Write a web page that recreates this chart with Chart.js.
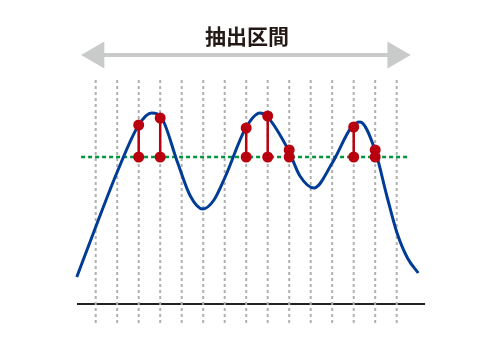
<!DOCTYPE html>
<html>
<head>
<meta charset="utf-8">
<script src="https://cdn.jsdelivr.net/npm/chart.js@4/dist/chart.umd.min.js"></script>
<style>
  html, body { margin: 0; padding: 0; background: #ffffff; }
  #wrap { width: 480px; height: 352px; }
</style>
</head>
<body>
<div id="wrap"><canvas id="c" width="480" height="352"></canvas></div>
<script>
// ---- data ----
const titleText = '抽出区間';
// smooth signal curve (x in grid-line units, y above the baseline)
const curveX = [0.12, 1.00, 2.00, 3.00, 3.60, 4.07, 4.80, 5.40, 5.98, 6.50, 7.00, 7.98, 8.64, 8.95, 9.96, 10.50, 11.15, 12.00, 12.90, 13.29, 13.99, 14.53, 15.00, 15.50, 16.00];
const curveY = [27, 77, 132, 179, 191, 186, 142, 108, 95, 104, 126, 176, 191, 188, 154, 128, 116, 141, 177, 182, 154, 109, 72, 46, 31];
// sampling (dashed vertical) lines
const gridX = [1, 2, 3, 4, 5, 6, 7, 8, 9, 10, 11, 12, 13, 14, 15];
const gridTop = 224;
const gridBottom = -21;
// threshold (green dotted line)
const threshold = 147;
const thresholdFrom = 0.32;
const thresholdTo = 15.53;
// extracted samples (red markers): grid position and curve value
const markerX = [3, 4, 8, 9, 10, 13, 14];
const markerTop = [179, 186, 176, 188, 154, 177, 154];
// baseline
const baseFrom = 0.13;
const baseTo = 16.32;
// extraction-interval arrow
const arrowFrom = 1.04;
const arrowTo = 14.93;
const arrowY = 249;

// ---- build datasets ----
const curveData = curveX.map((x, i) => ({ x: x, y: curveY[i] }));
const gridData = [];
gridX.forEach(x => { gridData.push({ x: x, y: gridTop }, { x: x, y: gridBottom }, { x: x, y: null }); });
const markerData = [];
markerX.forEach((x, i) => { markerData.push({ x: x, y: threshold }, { x: x, y: markerTop[i] }, { x: x, y: null }); });

const RED = '#b8000f';

new Chart(document.getElementById('c'), {
  type: 'line',
  data: {
    datasets: [
      {
        label: 'markers', data: markerData, order: 1,
        borderColor: RED, borderWidth: 2.5, backgroundColor: RED,
        pointRadius: 5.5, pointBorderWidth: 0, pointBackgroundColor: RED,
        spanGaps: false, tension: 0, clip: false
      },
      {
        label: 'signal', data: curveData, order: 2,
        borderColor: '#003c96', borderWidth: 3, pointRadius: 0,
        cubicInterpolationMode: 'monotone', fill: false, clip: false
      },
      {
        label: 'threshold', data: [{ x: thresholdFrom, y: threshold }, { x: thresholdTo, y: threshold }], order: 3,
        borderColor: '#00963c', borderWidth: 2.5, borderDash: [4, 3], pointRadius: 0, clip: false
      },
      {
        label: 'grid', data: gridData, order: 4,
        borderColor: '#b0b0b0', borderWidth: 2, borderDash: [3, 3], pointRadius: 0,
        spanGaps: false, clip: false
      },
      {
        label: 'base', data: [{ x: baseFrom, y: 0 }, { x: baseTo, y: 0 }], order: 5,
        borderColor: '#222222', borderWidth: 2, pointRadius: 0, clip: false
      },
      {
        label: 'arrow', data: [{ x: arrowFrom, y: arrowY }, { x: arrowTo, y: arrowY }], order: 6,
        borderColor: '#c9caca', borderWidth: 4,
        pointStyle: 'triangle', pointRadius: 15.5, pointRotation: [-90, 90],
        pointBackgroundColor: '#c9caca', pointBorderWidth: 0, clip: false
      }
    ]
  },
  options: {
    responsive: false,
    animation: false,
    events: [],
    layout: { autoPadding: false, padding: { left: 14, right: 0, top: 0, bottom: 0 } },
    scales: {
      x: { type: 'linear', min: -2.8, max: 18.874, display: false },
      y: { type: 'linear', min: -48, max: 254, display: false }
    },
    plugins: {
      legend: { display: false },
      tooltip: { enabled: false },
      title: {
        display: true, text: titleText, color: '#231815',
        font: { family: "'Noto Sans CJK JP', 'Noto Sans', sans-serif", size: 21, weight: 'bold', lineHeight: '25px' },
        padding: { top: 24, bottom: 1 }
      }
    }
  }
});
</script>
</body>
</html>
